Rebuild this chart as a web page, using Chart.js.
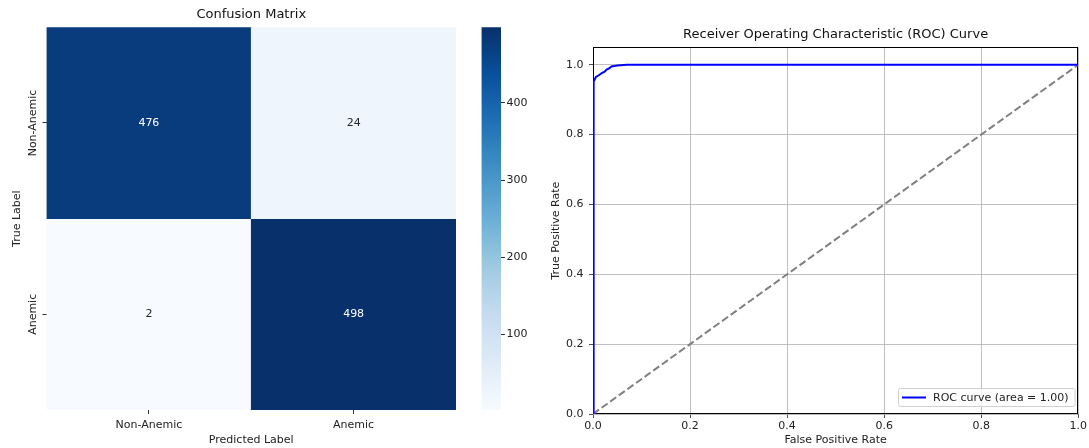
<!DOCTYPE html>
<html>
<head>
<meta charset="utf-8">
<script src="https://cdn.jsdelivr.net/npm/chart.js@4.4.0/dist/chart.umd.min.js"></script>
<style>
    html, body { margin: 0; padding: 0; background: #fff; }
    #wrap { position: relative; width: 1089px; height: 448px; overflow: hidden; }
    canvas { position: absolute; top: 0; }
    #cm { left: 0; }
    #cb { left: 470px; }
    #roc { left: 540px; }
</style>
</head>
<body>
<div id="wrap">
    <canvas id="cm" width="470" height="448"></canvas>
    <canvas id="cb" width="70" height="448"></canvas>
    <canvas id="roc" width="549" height="448"></canvas>
</div>
<script>
// ==== DATA ====
const classLabels = ["Non-Anemic", "Anemic"];
const rowNonAnemic = [476, 24];   // true Non-Anemic -> predicted
const rowAnemic = [2, 498];       // true Anemic -> predicted
const matrixRows = [rowNonAnemic, rowAnemic];
const colorbarTicks = [100, 200, 300, 400];

const rocFpr = [0, 0, 0.002, 0.002, 0.006, 0.012, 0.018, 0.024, 0.028, 0.034, 0.038, 0.05, 0.07, 1.0];
const rocTpr = [0, 0.65, 0.65, 0.952, 0.965, 0.97, 0.976, 0.98, 0.986, 0.99, 0.995, 0.998, 1.0, 1.0];
const chanceFpr = [0, 1];
const chanceTpr = [0, 1];
const rocTicks = [0, 0.2, 0.4, 0.6, 0.8, 1.0];
const rocLabel = "ROC curve (area = 1.00)";

// ==== DEFAULTS ====
const FONT = "'DejaVu Sans', sans-serif";
Chart.defaults.font.family = FONT;
Chart.defaults.font.size = 11;
Chart.defaults.color = "#222";
Chart.defaults.animation = false;
Chart.defaults.plugins.legend.display = false;
Chart.defaults.plugins.tooltip.enabled = false;

// ===== BLUES COLORMAP =====
const bluesStops = ["#f7fbff", "#deebf7", "#c6dbef", "#9ecae1", "#6baed6", "#4292c6", "#2171b5", "#08519c", "#08306b"];

function hexToRgb(h) {
    return [1, 3, 5].map(i => parseInt(h.substr(i, 2), 16));
}

function blues(t) {
    t = Math.max(0, Math.min(1, t));
    const p = t * (bluesStops.length - 1);
    const i = Math.min(Math.floor(p), bluesStops.length - 2);
    const f = p - i;
    const a = hexToRgb(bluesStops[i]), b = hexToRgb(bluesStops[i + 1]);
    const c = a.map((v, k) => Math.round(v + (b[k] - v) * f));
    return `rgb(${c[0]}, ${c[1]}, ${c[2]})`;
}

const nRows = matrixRows.length;
const allVals = matrixRows.flat();
const vmin = Math.min(...allVals);
const vmax = Math.max(...allVals);

// ===== PLUGINS =====
// title centred over the plot area (matplotlib style)
const areaTitle = {
    id: "areaTitle",
    afterDraw(chart, args, opts) {
        const { ctx, chartArea: a } = chart;
        ctx.save();
        ctx.font = `13px ${FONT}`;
        ctx.fillStyle = "#111";
        ctx.textAlign = "center";
        ctx.textBaseline = "middle";
        ctx.fillText(opts.text, (a.left + a.right) / 2, a.top - opts.gap);
        ctx.restore();
    }
};

const cellLabels = {
    id: "cellLabels",
    afterDatasetsDraw(chart) {
        const ctx = chart.ctx;
        ctx.save();
        ctx.font = `11px ${FONT}`;
        ctx.textAlign = "center";
        ctx.textBaseline = "middle";
        chart.data.datasets.forEach((ds, i) => {
            chart.getDatasetMeta(i).data.forEach((bar, j) => {
                const v = ds.values[j];
                ctx.fillStyle = (v - vmin) / (vmax - vmin) > 0.5 ? "#ffffff" : "#262626";
                ctx.fillText(String(v), bar.x, (bar.y + bar.base) / 2);
            });
        });
        // row labels, rotated like matplotlib
        const ys = chart.scales.y;
        classLabels.forEach((lab, i) => {
            const py = ys.getPixelForValue(nRows - 1 - i + 0.5);
            ctx.save();
            ctx.translate(ys.right - 13.5, py);
            ctx.rotate(-Math.PI / 2);
            ctx.fillStyle = "#222";
            ctx.fillText(lab, 0, 0);
            ctx.restore();
        });
        ctx.restore();
    }
};

const axesFrame = {
    id: "axesFrame",
    beforeDatasetsDraw(chart) {
        const { ctx, chartArea: a } = chart;
        ctx.save();
        ctx.strokeStyle = "#000";
        ctx.lineWidth = 1;
        const l = Math.round(a.left) + 0.5, t = Math.round(a.top) + 0.5;
        const r = Math.round(a.right) - 0.5, b = Math.round(a.bottom) - 0.5;
        ctx.strokeRect(l, t, r - l, b - t);
        ctx.restore();
    }
};

const rocLegend = {
    id: "rocLegend",
    afterDraw(chart) {
        const { ctx, chartArea: a } = chart;
        ctx.save();
        ctx.font = `11px ${FONT}`;
        const tw = ctx.measureText(rocLabel).width;
        const h = 18, w = 35 + tw + 6;
        const x = Math.round(a.right - 4 - w), y = Math.round(a.bottom - 8 - h);
        ctx.beginPath();
        ctx.roundRect(x + 0.5, y + 0.5, w, h, 2);
        ctx.fillStyle = "rgba(255,255,255,0.8)";
        ctx.fill();
        ctx.strokeStyle = "#d0d0d0";
        ctx.lineWidth = 1;
        ctx.stroke();
        ctx.beginPath();
        ctx.moveTo(x + 4, y + h / 2 + 0.5);
        ctx.lineTo(x + 28, y + h / 2 + 0.5);
        ctx.strokeStyle = "#0000ff";
        ctx.lineWidth = 2;
        ctx.stroke();
        ctx.fillStyle = "#222";
        ctx.textBaseline = "middle";
        ctx.fillText(rocLabel, x + 35, y + h / 2 + 1);
        ctx.restore();
    }
};

// ===== CONFUSION MATRIX =====
new Chart(document.getElementById("cm"), {
    type: "bar",
    data: {
        labels: classLabels,
        datasets: matrixRows.map((row, i) => ({
            label: classLabels[i],
            data: row.map(() => [nRows - 1 - i, nRows - i]),
            values: row,
            backgroundColor: row.map(v => blues((v - vmin) / (vmax - vmin))),
            barPercentage: 1,
            categoryPercentage: 1,
            grouped: false,
            borderWidth: 0
        }))
    },
    options: {
        responsive: false,
        layout: { padding: { right: 14, left: 0.5, top: 27.3 } },
        plugins: {
            areaTitle: { text: "Confusion Matrix", gap: 12.3 }
        },
        scales: {
            x: {
                grid: { offset: false, drawOnChartArea: false, tickLength: 4, tickColor: "#333" },
                border: { display: false },
                ticks: { padding: 4.5, maxRotation: 0 },
                title: { display: true, text: "Predicted Label", padding: { top: 0, bottom: 1.5 } },
                afterFit: s => { s.height = 38; }
            },
            y: {
                min: 0,
                max: nRows,
                afterBuildTicks: s => { s.ticks = classLabels.map((_, i) => ({ value: nRows - 1 - i + 0.5 })); },
                ticks: { display: false },
                grid: { drawOnChartArea: false, tickLength: 4, tickColor: "#333" },
                border: { display: false },
                title: { display: true, text: "True Label", padding: { top: 9.6, bottom: 0 } },
                afterFit: s => { s.width = 46; }
            }
        }
    },
    plugins: [cellLabels, areaTitle]
});

// ===== COLORBAR =====
new Chart(document.getElementById("cb"), {
    type: "bar",
    data: {
        labels: ["scale"],
        datasets: [{
            data: [[vmin, vmax]],
            backgroundColor: c => {
                const area = c.chart.chartArea;
                if (!area) return bluesStops[4];
                const g = c.chart.ctx.createLinearGradient(0, area.bottom, 0, area.top);
                bluesStops.forEach((col, i) => g.addColorStop(i / (bluesStops.length - 1), col));
                return g;
            },
            barPercentage: 1,
            categoryPercentage: 1,
            borderWidth: 0
        }]
    },
    options: {
        responsive: false,
        layout: { padding: { left: 11.5, top: 27.3, bottom: 38 } },
        scales: {
            x: { display: false },
            y: {
                position: "right",
                min: vmin,
                max: vmax,
                afterBuildTicks: s => { s.ticks = colorbarTicks.map(v => ({ value: v })); },
                ticks: { padding: 1.5 },
                grid: { drawOnChartArea: false, tickLength: 4, tickColor: "#333" },
                border: { display: false },
                afterFit: s => { s.width = 39; }
            }
        }
    }
});

// ===== ROC CURVE =====
new Chart(document.getElementById("roc"), {
    type: "line",
    data: {
        datasets: [
            {
                label: rocLabel,
                data: rocFpr.map((x, i) => ({ x, y: rocTpr[i] })),
                borderColor: "#0000ff",
                borderWidth: 2,
                pointRadius: 0,
                tension: 0,
                clip: 0
            },
            {
                label: "chance",
                data: chanceFpr.map((x, i) => ({ x, y: chanceTpr[i] })),
                borderColor: "#808080",
                borderWidth: 2,
                borderDash: [7.4, 3.2],
                pointRadius: 0,
                clip: 0
            }
        ]
    },
    options: {
        responsive: false,
        layout: { padding: { right: 7, top: 47.3 } },
        plugins: {
            areaTitle: { text: "Receiver Operating Characteristic (ROC) Curve", gap: 12.3 }
        },
        scales: {
            x: {
                type: "linear",
                min: 0,
                max: 1,
                afterBuildTicks: s => { s.ticks = rocTicks.map(v => ({ value: v })); },
                ticks: { callback: v => v.toFixed(1), padding: 2, maxRotation: 0 },
                grid: { color: "#b0b0b0", lineWidth: 0.8, tickLength: 4, tickColor: "#222" },
                border: { display: false },
                title: { display: true, text: "False Positive Rate", padding: { top: 0, bottom: 1.5 } },
                afterFit: s => { s.height = 34; }
            },
            y: {
                min: 0,
                max: 1.05,
                afterBuildTicks: s => { s.ticks = rocTicks.map(v => ({ value: v })); },
                ticks: { callback: v => v.toFixed(1), padding: 5.5 },
                grid: { color: "#b0b0b0", lineWidth: 0.8, tickLength: 4, tickColor: "#222" },
                border: { display: false },
                title: { display: true, text: "True Positive Rate", padding: { top: 9.9, bottom: 0 } },
                afterFit: s => { s.width = 53; }
            }
        }
    },
    plugins: [axesFrame, rocLegend, areaTitle]
});
</script>
</body>
</html>
